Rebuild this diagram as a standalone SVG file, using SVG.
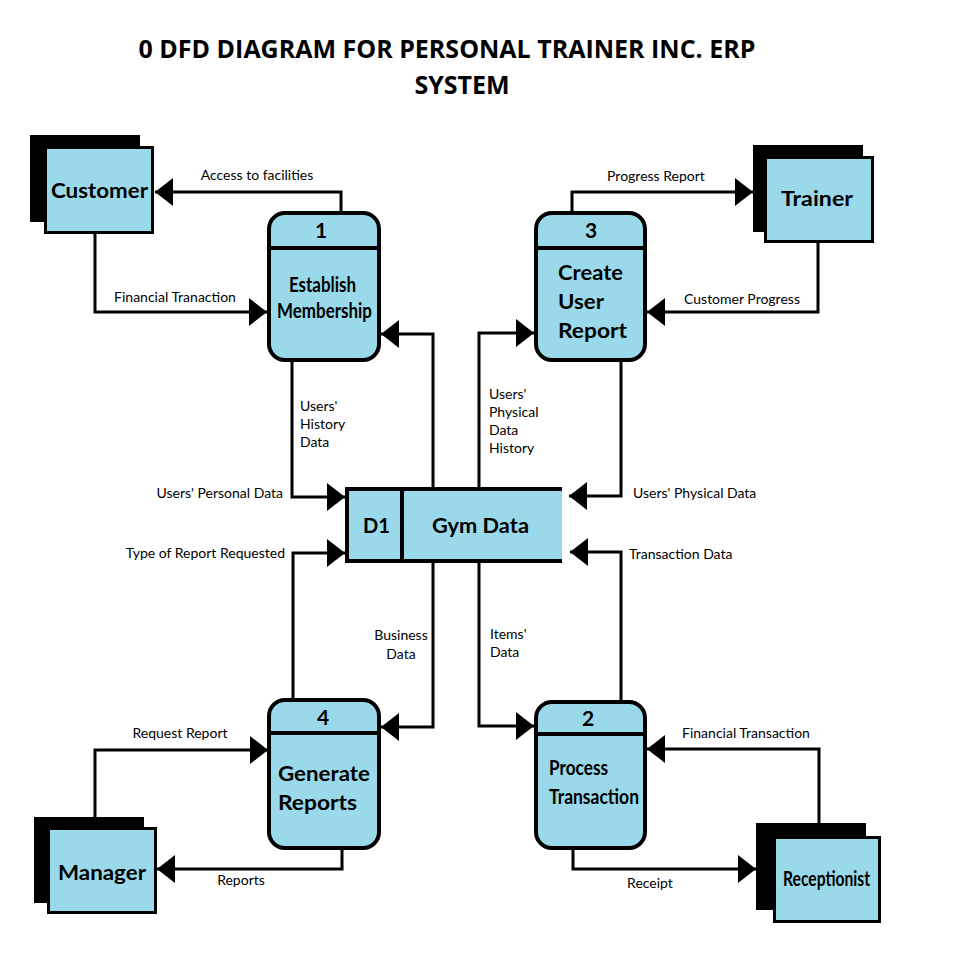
<svg xmlns="http://www.w3.org/2000/svg" width="962" height="971" viewBox="0 0 962 971">
<style>
.fill{fill:#99d9ea}
.ent{fill:#99d9ea;stroke:#000;stroke-width:3}
.shadow{fill:#000}
.proc{fill:#99d9ea;stroke:#000;stroke-width:4}
.div{stroke:#000;stroke-width:4}
.con{fill:none;stroke:#000;stroke-width:3;marker-end:url(#arr)}
.title{font-family:"Open Sans","Liberation Sans",sans-serif;font-weight:bold;font-size:25px;fill:#000}
.node{font-family:Lato,"Liberation Sans",sans-serif;font-weight:bold;font-size:21px;fill:#000}
.lbl{font-family:Lato,"Liberation Sans",sans-serif;font-size:14px;fill:#000}
</style>
<defs>
<marker id="arr" viewBox="0 0 18 28" refX="18" refY="14" markerWidth="18" markerHeight="28" orient="auto" markerUnits="userSpaceOnUse">
<path d="M0,0 L18,14 L0,28 z" fill="#000"/>
</marker>
</defs>
<rect width="962" height="971" fill="#fff"/>
<g id="title">
<text class="title" x="447" y="58" text-anchor="middle">0 DFD DIAGRAM FOR PERSONAL TRAINER INC. ERP</text>
<text class="title" x="462" y="94" text-anchor="middle">SYSTEM</text>
</g>
<g id="connectors">
<path class="con" d="M341,211 V192 H155"/>
<path class="con" d="M95,233 V312 H267"/>
<path class="con" d="M292,360 V497 H345"/>
<path class="con" d="M433,487 V334 H381"/>
<path class="con" d="M479,487 V333 H534"/>
<path class="con" d="M572,211 V192 H753"/>
<path class="con" d="M818,242 V312 H647"/>
<path class="con" d="M621,360 V496 H569"/>
<path class="con" d="M621,702 V552 H570"/>
<path class="con" d="M293,698 V553 H345"/>
<path class="con" d="M433,563 V727 H381"/>
<path class="con" d="M479,563 V726 H534"/>
<path class="con" d="M95,817 V750 H268"/>
<path class="con" d="M342,849 V869 H157"/>
<path class="con" d="M819,823 V749 H647"/>
<path class="con" d="M573,848 V869 H756"/>
</g>
<g id="labels">
<text class="lbl" x="257" y="180" text-anchor="middle">Access to facilities</text>
<text class="lbl" x="175" y="302" text-anchor="middle">Financial Tranaction</text>
<text class="lbl" x="300" y="411">Users'</text>
<text class="lbl" x="300" y="429">History</text>
<text class="lbl" x="300" y="447">Data</text>
<text class="lbl" x="283" y="498" text-anchor="end">Users' Personal Data</text>
<text class="lbl" x="489" y="399">Users'</text>
<text class="lbl" x="489" y="417">Physical</text>
<text class="lbl" x="489" y="435">Data</text>
<text class="lbl" x="489" y="453">History</text>
<text class="lbl" x="656" y="181" text-anchor="middle">Progress Report</text>
<text class="lbl" x="742" y="304" text-anchor="middle">Customer Progress</text>
<text class="lbl" x="633" y="498">Users' Physical Data</text>
<text class="lbl" x="629" y="559">Transaction Data</text>
<text class="lbl" x="285" y="558" text-anchor="end">Type of Report Requested</text>
<text class="lbl" x="401" y="640" text-anchor="middle">Business</text>
<text class="lbl" x="401" y="659" text-anchor="middle">Data</text>
<text class="lbl" x="490" y="639">Items'</text>
<text class="lbl" x="490" y="657">Data</text>
<text class="lbl" x="180" y="738" text-anchor="middle">Request Report</text>
<text class="lbl" x="241" y="885" text-anchor="middle">Reports</text>
<text class="lbl" x="746" y="738" text-anchor="middle">Financial Transaction</text>
<text class="lbl" x="650" y="888" text-anchor="middle">Receipt</text>
</g>
<g id="customer">
<rect class="shadow" x="30" y="135" width="110" height="87"/>
<rect class="ent" x="45.5" y="147.5" width="107" height="85"/>
<text class="node" x="51" y="198" textLength="97" lengthAdjust="spacingAndGlyphs">Customer</text>
</g>
<g id="trainer">
<rect class="shadow" x="753" y="145" width="110" height="87"/>
<rect class="ent" x="765.5" y="157.5" width="107" height="84"/>
<text class="node" x="781" y="206" textLength="72" lengthAdjust="spacingAndGlyphs">Trainer</text>
</g>
<g id="manager">
<rect class="shadow" x="34" y="817" width="110" height="86"/>
<rect class="ent" x="48.5" y="828.5" width="107" height="84"/>
<text class="node" x="58" y="880" textLength="88" lengthAdjust="spacingAndGlyphs">Manager</text>
</g>
<g id="receptionist">
<rect class="shadow" x="756" y="823" width="110" height="87"/>
<rect class="ent" x="774.5" y="837.5" width="105" height="84"/>
<text class="node" x="783" y="886" font-size="19" textLength="87" lengthAdjust="spacingAndGlyphs">Receptionist</text>
</g>
<g id="p1">
<rect class="proc" x="269" y="213" width="110" height="147" rx="16"/>
<line class="div" x1="269" y1="248" x2="379" y2="248"/>
<text class="node" x="321" y="238" text-anchor="middle" font-size="18">1</text>
<text class="node" x="289" y="292" font-size="19" textLength="67" lengthAdjust="spacingAndGlyphs">Establish</text>
<text class="node" x="277" y="318" font-size="19" textLength="95" lengthAdjust="spacingAndGlyphs">Membership</text>
</g>
<g id="p3">
<rect class="proc" x="536" y="213" width="109" height="147" rx="16"/>
<line class="div" x1="536" y1="248" x2="645" y2="248"/>
<text class="node" x="591" y="238" text-anchor="middle" font-size="18">3</text>
<text class="node" x="558" y="280" textLength="65" lengthAdjust="spacingAndGlyphs">Create</text>
<text class="node" x="558" y="309" textLength="46" lengthAdjust="spacingAndGlyphs">User</text>
<text class="node" x="558" y="338" textLength="69" lengthAdjust="spacingAndGlyphs">Report</text>
</g>
<g id="p4">
<rect class="proc" x="269" y="700" width="110" height="148" rx="16"/>
<line class="div" x1="269" y1="733" x2="379" y2="733"/>
<text class="node" x="323" y="725" text-anchor="middle" font-size="18">4</text>
<text class="node" x="278" y="781" textLength="92" lengthAdjust="spacingAndGlyphs">Generate</text>
<text class="node" x="278" y="810" textLength="79" lengthAdjust="spacingAndGlyphs">Reports</text>
</g>
<g id="p2">
<rect class="proc" x="536" y="702" width="109" height="146" rx="16"/>
<line class="div" x1="536" y1="734" x2="645" y2="734"/>
<text class="node" x="588" y="726" text-anchor="middle" font-size="18">2</text>
<text class="node" x="549" y="775" font-size="19" textLength="59" lengthAdjust="spacingAndGlyphs">Process</text>
<text class="node" x="549" y="804" font-size="19" textLength="90" lengthAdjust="spacingAndGlyphs">Transaction</text>
</g>
<g id="d1">
<rect class="fill" x="347" y="489" width="215" height="72"/>
<path d="M562,489 H347 V561 H562" fill="none" stroke="#000" stroke-width="4"/>
<line class="div" x1="402" y1="489" x2="402" y2="561"/>
<text class="node" x="363" y="533" textLength="27" lengthAdjust="spacingAndGlyphs">D1</text>
<text class="node" x="432" y="533" textLength="97" lengthAdjust="spacingAndGlyphs">Gym Data</text>
</g>
</svg>
